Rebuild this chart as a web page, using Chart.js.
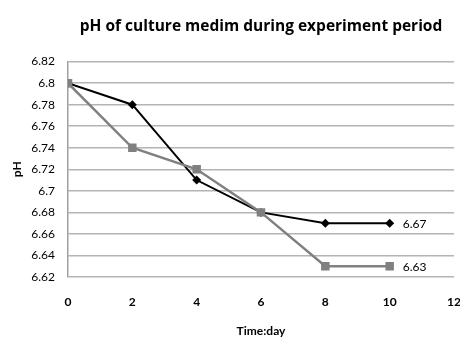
<!DOCTYPE html>
<html>
<head>
<meta charset="utf-8">
<script src="https://cdn.jsdelivr.net/npm/chart.js@4/dist/chart.umd.min.js"></script>
<style>
  html, body { margin: 0; padding: 0; background: #fff; }
  #wrap { width: 460px; height: 338px; }
</style>
</head>
<body>
<div id="wrap"><canvas id="phChart" width="460" height="338"></canvas></div>
<script>
// Data
const days = [0, 2, 4, 6, 8, 10];
const phBlack = [6.80, 6.78, 6.71, 6.68, 6.67, 6.67];
const phGray = [6.80, 6.74, 6.72, 6.68, 6.63, 6.63];
const yTicks = [6.62, 6.64, 6.66, 6.68, 6.70, 6.72, 6.74, 6.76, 6.78, 6.80, 6.82];
const xTicks = [0, 2, 4, 6, 8, 10, 12];

const FONT = 'Lato, "Open Sans", sans-serif';
const TITLE_FONT = '"Open Sans", Lato, sans-serif';

function toPoints(xs, ys) {
    return xs.map((x, i) => ({ x: x, y: ys[i] }));
}

// Writes the value next to the last point of each series
const endLabels = {
    id: 'endLabels',
    afterDatasetsDraw(chart) {
        const ctx = chart.ctx;
        ctx.save();
        ctx.font = '12px ' + FONT;
        ctx.fillStyle = '#000';
        ctx.textBaseline = 'middle';
        ctx.textAlign = 'left';
        chart.data.datasets.forEach((ds, i) => {
            const meta = chart.getDatasetMeta(i);
            const last = meta.data[meta.data.length - 1];
            const v = ds.data[ds.data.length - 1].y;
            ctx.fillText(v.toFixed(2), last.x + 13, last.y + 1);
        });
        ctx.restore();
    }
};

new Chart(document.getElementById('phChart'), {
    type: 'line',
    data: {
        datasets: [{
            data: toPoints(days, phBlack),
            borderColor: '#000',
            backgroundColor: '#000',
            borderWidth: 2,
            pointStyle: 'rectRot',
            pointRadius: 4.5,
            pointBorderWidth: 0,
            tension: 0,
            order: 1
        }, {
            data: toPoints(days, phGray),
            borderColor: '#808080',
            backgroundColor: '#808080',
            borderWidth: 2.5,
            pointStyle: 'rect',
            pointRadius: 6,
            pointBorderWidth: 0,
            tension: 0,
            order: 0
        }]
    },
    options: {
        responsive: false,
        animation: false,
        layout: { padding: { left: 0, right: 0, top: 0, bottom: 0 } },
        plugins: {
            legend: { display: false },
            tooltip: { enabled: false },
            title: {
                display: true,
                fullSize: false,
                text: 'pH of culture medim during experiment period',
                color: '#000',
                font: { family: TITLE_FONT, size: 15.5, weight: 'bold' },
                padding: { top: 17, bottom: 26 }
            }
        },
        scales: {
            x: {
                type: 'linear',
                min: 0,
                max: 12,
                afterBuildTicks: s => { s.ticks = xTicks.map(v => ({ value: v })); },
                afterFit: s => { s.height = 61; s.paddingRight = 6; },
                grid: { display: false },
                border: { display: false },
                ticks: {
                    padding: 10,
                    color: '#000',
                    font: { family: FONT, size: 12, weight: 'bold' }
                },
                title: {
                    display: true,
                    text: 'Time:day',
                    color: '#000',
                    font: { family: FONT, size: 12, weight: 'bold' },
                    padding: { top: 0, bottom: 0 }
                }
            },
            y: {
                min: 6.62,
                max: 6.82,
                afterBuildTicks: s => { s.ticks = yTicks.map(v => ({ value: v })); },
                afterFit: s => { s.width = 68; },
                grid: { color: '#b4b4b4', lineWidth: 1.5, drawTicks: false },
                border: { display: true, color: '#a0a0a0', width: 1.5 },
                ticks: {
                    padding: 13,
                    color: '#000',
                    font: { family: FONT, size: 12 },
                    callback: v => String(Number(v.toFixed(2)))
                },
                title: {
                    display: true,
                    text: 'pH',
                    color: '#000',
                    font: { family: FONT, size: 12, weight: 'bold' },
                    padding: { top: 10, bottom: 0 }
                }
            }
        }
    },
    plugins: [endLabels]
});
</script>
</body>
</html>
